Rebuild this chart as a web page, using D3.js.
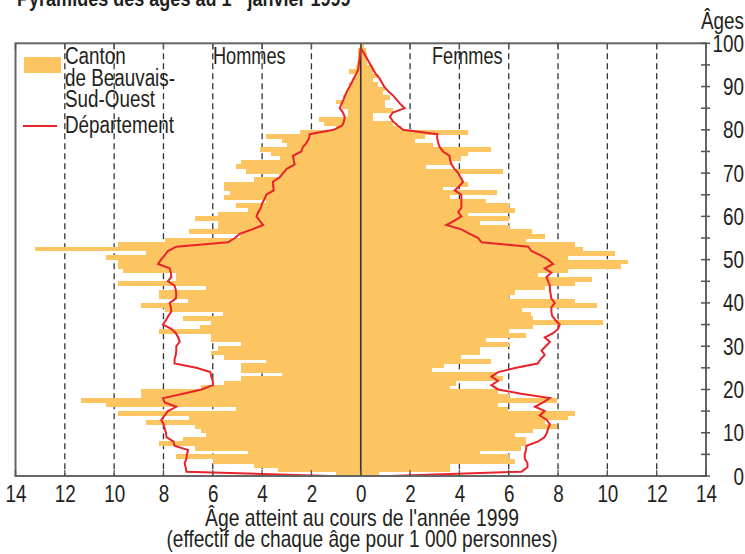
<!DOCTYPE html>
<html><head><meta charset="utf-8">
<script src="https://cdn.jsdelivr.net/npm/d3@7"></script>
<style>
body{margin:0;background:#fff;}
svg text{font-family:"Liberation Sans",Arial,sans-serif;fill:#231f20;}
</style></head><body>
<svg id="c" width="745" height="554"></svg>
<script>
// values per age 0..99 (effectif pour 1 000 personnes)
const hommesCanton = [0.99,3.35,4.34,6.0,7.48,4.57,6.73,8.18,7.2,6.29,
 6.46,6.73,8.7,6.96,9.84,5.07,10.34,11.33,8.9,8.92,
 6.49,5.56,4.84,3.18,4.84,4.84,3.85,5.56,6.06,5.79,
 4.84,6.06,6.06,8.18,6.53,6.06,7.2,5.58,7.95,8.92,
 7.0,8.18,8.18,6.29,9.84,7.48,7.48,9.64,9.84,9.84,
 10.34,8.69,13.2,9.84,7.95,4.9,6.97,5.8,5.79,6.73,
 5.79,4.57,5.07,3.85,5.56,5.31,5.56,5.56,4.34,3.3,
 4.64,5.07,4.84,3.29,3.62,4.1,3.0,3.18,3.85,2.45,
 1.0,1.5,1.7,0.51,0.51,0.78,0.99,0.72,0.55,0.5,
 0.47,0.35,0.24,0.49,0.2,0.15,0.1,0.1,0.1,0.0];
const femmesCanton = [0.75,3.61,3.61,6.25,6.0,4.83,6.5,6.72,6.72,6.25,
 7.0,7.94,7.46,8.41,8.68,5.98,5.57,7.94,6.0,5.57,
 3.61,3.88,5.77,5.54,2.9,3.38,5.3,4.08,4.83,4.83,
 6.0,5.06,6.72,6.0,7.0,9.83,7.0,6.92,6.52,9.6,
 8.68,6.0,6.25,7.46,8.68,9.36,7.2,8.4,10.57,10.82,
 8.4,10.33,9.0,8.68,6.72,7.46,6.96,6.0,4.83,6.0,
 4.33,6.25,6.0,5.06,3.61,5.54,3.34,4.33,4.15,3.95,
 5.77,2.64,3.68,4.08,4.33,5.3,2.93,2.19,2.6,4.35,
 1.65,1.31,0.5,0.5,1.31,1.0,1.0,1.18,0.9,0.97,
 0.7,0.5,0.7,0.5,0.5,0.26,0.26,0.25,0.2,0.15];
const hommesDept = [1.26,7.07,7.1,7.14,7.07,7.05,7.0,7.55,7.6,7.88,
 7.9,7.95,8.0,8.09,7.95,7.82,7.48,7.95,8.02,7.2,
 6.46,5.99,6.0,6.06,6.1,6.67,7.55,7.55,7.5,7.48,
 7.48,7.34,7.4,7.5,7.68,8.02,7.9,7.8,7.68,7.7,
 7.75,7.5,7.48,7.5,7.55,7.82,7.68,7.7,7.75,8.22,
 8.1,7.95,7.82,7.48,5.38,5.1,4.9,4.4,3.96,4.1,
 4.23,4.15,4.05,4.0,3.9,3.83,3.53,3.55,3.56,3.29,
 3.15,3.0,2.68,2.72,2.75,2.41,2.35,2.2,2.1,2.07,
 1.1,0.75,0.68,0.65,0.72,0.85,0.78,0.7,0.63,0.55,
 0.45,0.36,0.27,0.18,0.1,0.08,0.06,0.04,0.02,0.0];
const femmesDept = [1.18,6.52,6.76,6.76,6.65,6.65,6.7,6.72,7.2,7.46,
 7.55,7.6,7.67,7.53,7.26,7.46,7.06,7.4,7.67,6.5,
 5.57,5.3,5.57,5.3,5.57,6.3,7.17,7.3,7.46,7.33,
 7.5,7.67,7.46,7.8,8.0,8.07,7.9,7.76,7.73,7.73,
 7.87,7.73,7.7,7.67,7.67,7.6,7.53,7.73,7.46,7.8,
 7.6,7.3,6.92,6.79,4.9,4.76,4.4,4.08,3.47,3.8,
 4.08,3.95,4.08,4.08,4.08,4.08,3.81,4.0,4.15,4.05,
 3.95,3.8,3.68,3.62,3.6,3.34,3.2,3.14,3.1,3.1,
 1.72,1.5,1.3,1.18,1.3,1.78,1.6,1.45,1.3,1.1,
 0.95,0.85,0.75,0.6,0.5,0.4,0.3,0.2,0.1,0.0];
const xTicks = [-14,-12,-10,-8,-6,-4,-2,0,2,4,6,8,10,12,14];
const yTicksMajor = [0,10,20,30,40,50,60,70,80,90,100];
const yTicksMinor = [5,15,25,35,45,55,65,75,85,95];
const legendLines = ["Canton","de Beauvais-","Sud-Ouest"];

const BAR = "#fcc562", RED = "#e8232a", FS = 23, SX = 0.82;
const svg = d3.select("#c");
const x = d3.scaleLinear().domain([-14,14]).range([15.5,706]);
const y = d3.scaleLinear().domain([0,100]).range([476,43.3]);
const ages = d3.range(hommesCanton.length);

function label(px, py, str, anchor, sx){
  return svg.append("text").attr("transform",`translate(${px},${py}) scale(${sx||SX},1)`)
    .attr("text-anchor",anchor||"start").style("font-size",FS+"px").text(str);
}

// title (clipped at top)
const t = svg.append("text").attr("transform",`translate(17,6) scale(0.82,1)`).style("font-weight","bold").style("font-size","22px");
t.append("tspan").text("Pyramides des âges au 1");
t.append("tspan").text("er").attr("dy",-8).style("font-size","14px");
t.append("tspan").text(" janvier 1999").attr("dy",8);

// dashed grid
svg.append("g").selectAll("line").data(xTicks.filter(d=>d!==0 && Math.abs(d)!==14)).join("line")
 .attr("x1",d=>x(d)).attr("x2",d=>x(d)).attr("y1",y(100)).attr("y2",y(0))
 .attr("stroke","#333").attr("stroke-width",1.3).attr("stroke-dasharray","6,4");

// bars
const g = svg.append("g").attr("shape-rendering","crispEdges");
g.selectAll("rect.h").data(ages).join("rect").attr("class","h")
 .attr("x",a=>x(-hommesCanton[a])).attr("width",a=>x(0)-x(-hommesCanton[a]))
 .attr("y",a=>y(a+1)).attr("height",a=>y(a)-y(a+1)+0.5).attr("fill",BAR);
g.selectAll("rect.f").data(ages).join("rect").attr("class","f")
 .attr("x",x(0)).attr("width",a=>x(femmesCanton[a])-x(0))
 .attr("y",a=>y(a+1)).attr("height",a=>y(a)-y(a+1)+0.5).attr("fill",BAR);

// zero line
svg.append("line").attr("x1",x(0)).attr("x2",x(0)).attr("y1",y(100)).attr("y2",y(0))
 .attr("stroke","#333").attr("stroke-width",1.6);

// department lines
const lineH = d3.line().x(a=>x(-hommesDept[a])).y(a=>y(a));
const lineF = d3.line().x(a=>x(femmesDept[a])).y(a=>y(a));
svg.append("path").attr("d",lineH(ages)).attr("fill","none").attr("stroke",RED).attr("stroke-width",2);
svg.append("path").attr("d",lineF(ages)).attr("fill","none").attr("stroke",RED).attr("stroke-width",2);

// frame
svg.append("rect").attr("x",x(-14)).attr("y",y(100)).attr("width",x(14)-x(-14)).attr("height",y(0)-y(100))
 .attr("fill","none").attr("stroke","#666").attr("stroke-width",2);

// top/bottom small ticks
svg.append("g").selectAll("line").data(xTicks).join("line")
 .attr("x1",d=>x(d)).attr("x2",d=>x(d)).attr("y1",y(0)).attr("y2",y(0)-6).attr("stroke","#555").attr("stroke-width",1.3);
svg.append("g").selectAll("line").data(xTicks).join("line")
 .attr("x1",d=>x(d)).attr("x2",d=>x(d)).attr("y1",y(100)).attr("y2",y(100)+6).attr("stroke","#555").attr("stroke-width",1.3);

// bottom axis
const ax = svg.append("g").attr("transform",`translate(0,${y(0)})`)
 .call(d3.axisBottom(x).tickValues(xTicks).tickFormat(d=>Math.abs(d)).tickSize(0));
ax.select(".domain").remove();
ax.selectAll("text").style("font-size",FS+"px").attr("y",0).attr("dy",null)
 .attr("transform",`translate(0,26) scale(${SX},1)`);

// right axis
const ay = svg.append("g").attr("transform",`translate(${x(14)},0)`)
 .call(d3.axisRight(y).tickValues(yTicksMajor.concat(yTicksMinor)).tickFormat(d=>d%10===0?d:"").tickSize(0));
ay.select(".domain").remove();
ay.selectAll("text").style("font-size",FS+"px").attr("text-anchor","end").attr("x",0).attr("dy",null).attr("y",0)
 .attr("transform",`translate(38,8) scale(${SX},1)`);
svg.append("g").selectAll("line").data(yTicksMajor.concat(yTicksMinor)).join("line")
 .attr("x1",x(14)-5).attr("x2",x(14)+4).attr("y1",d=>y(d)).attr("y2",d=>y(d)).attr("stroke","#555").attr("stroke-width",1.5);
label(744,29,"Âges","end");

// section labels
label(213,64,"Hommes","start",0.79);
label(432,64,"Femmes","start",0.79);

// legend
svg.append("rect").attr("x",24).attr("y",57).attr("width",37).attr("height",16).attr("fill",BAR);
legendLines.forEach((d,i)=>label(65,64+i*21.5,d));
svg.append("line").attr("x1",23).attr("x2",57).attr("y1",126).attr("y2",126).attr("stroke",RED).attr("stroke-width",2);
label(65,133,"Département");

// axis title
label(362,526,"Âge atteint au cours de l'année 1999","middle",0.84);
label(362,547,"(effectif de chaque âge pour 1 000 personnes)","middle",0.83);
</script></body></html>
